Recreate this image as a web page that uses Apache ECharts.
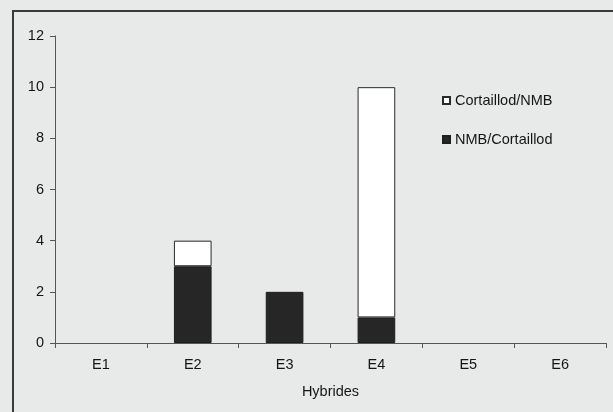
<!DOCTYPE html>
<html>
<head>
<meta charset="utf-8">
<script src="https://cdn.jsdelivr.net/npm/echarts@6/dist/echarts.min.js"></script>
<style>
html,body{margin:0;padding:0;background:#e8e9e9;}
#c{width:613px;height:412px;}
</style>
</head>
<body>
<div id="c"></div>
<script>
var categories = ['E1','E2','E3','E4','E5','E6'];
var nmbCortaillod = [0,3,2,1,0,0];
var cortaillodNmb = [0,1,0,9,0,0];
var yTicks = [0,2,4,6,8,10,12];

function hideZero(arr){ return arr.map(function(v){ return v === 0 ? null : v; }); }

var chart = echarts.init(document.getElementById('c'), null, {renderer:'canvas'});
var font = 'Liberation Sans, Arial, sans-serif';
var txt = '#151515';
chart.setOption({
  backgroundColor: '#e8e9e9',
  animation: false,
  textStyle: {fontFamily: font, color: txt},
  graphic: [{
    type: 'rect',
    shape: {x: 13, y: 11, width: 700, height: 500},
    style: {fill: 'none', stroke: '#3a3a3a', lineWidth: 2},
    silent: true
  }],
  grid: {left: 55, right: 7, top: 36, bottom: 69, containLabel: false},
  legend: {
    orient: 'vertical',
    left: 437,
    top: 88,
    padding: 5,
    itemWidth: 7,
    itemHeight: 7,
    itemGap: 24,
    icon: 'rect',
    data: ['Cortaillod/NMB','NMB/Cortaillod'],
    textStyle: {fontFamily: font, fontSize: 14.5, color: txt, lineHeight: 14}
  },
  xAxis: {
    type: 'category',
    data: categories,
    name: 'Hybrides',
    nameLocation: 'middle',
    nameGap: 41,
    nameTextStyle: {fontFamily: font, fontSize: 14.5, color: txt},
    axisLine: {lineStyle: {color: '#555', width: 1}},
    axisTick: {show: true, length: 5, inside: false, lineStyle: {color: '#555'}},
    axisLabel: {margin: 14, fontFamily: font, fontSize: 14.5, color: txt},
    splitLine: {show: false}
  },
  yAxis: {
    type: 'value',
    min: yTicks[0],
    max: yTicks[yTicks.length-1],
    interval: 2,
    axisLine: {show: true, lineStyle: {color: '#555', width: 1}},
    axisTick: {show: true, length: 5, inside: false, lineStyle: {color: '#555'}},
    axisLabel: {margin: 11, fontFamily: font, fontSize: 14.5, color: txt},
    splitLine: {show: false}
  },
  series: [
    {
      name: 'NMB/Cortaillod',
      type: 'bar',
      stack: 'tot',
      data: hideZero(nmbCortaillod),
      barWidth: '41%',
      itemStyle: {color: '#262626', borderColor: '#1e1e1e', borderWidth: 1}
    },
    {
      name: 'Cortaillod/NMB',
      type: 'bar',
      stack: 'tot',
      data: hideZero(cortaillodNmb),
      barWidth: '41%',
      itemStyle: {color: '#ffffff', borderColor: '#2a2a2a', borderWidth: 1}
    }
  ]
});
</script>
</body>
</html>
